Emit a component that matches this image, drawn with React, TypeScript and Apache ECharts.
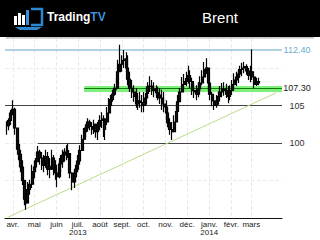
import React, { useEffect, useRef } from 'react';
import * as echarts from 'echarts';

const title = 'Brent';
const FONT = '"Liberation Sans", Arial, sans-serif';

const dates = [
  '2013-03-24', '2013-03-26', '2013-03-29', '2013-04-01', '2013-04-04', '2013-04-07', '2013-04-09', '2013-04-12', '2013-04-15', '2013-04-18',
  '2013-04-19', '2013-04-22', '2013-04-25', '2013-04-28', '2013-05-01', '2013-05-03', '2013-05-06', '2013-05-09', '2013-05-12', '2013-05-14',
  '2013-05-17', '2013-05-20', '2013-05-23', '2013-05-26', '2013-05-28', '2013-05-31', '2013-06-02', '2013-06-05', '2013-06-07', '2013-06-10',
  '2013-06-13', '2013-06-16', '2013-06-17', '2013-06-20', '2013-06-23', '2013-06-26', '2013-06-28', '2013-07-01', '2013-07-04', '2013-07-07',
  '2013-07-10', '2013-07-12', '2013-07-15', '2013-07-18', '2013-07-21', '2013-07-24', '2013-07-26', '2013-07-29', '2013-08-01', '2013-08-04',
  '2013-08-07', '2013-08-08', '2013-08-11', '2013-08-14', '2013-08-16', '2013-08-19', '2013-08-22', '2013-08-25', '2013-08-26', '2013-08-29',
  '2013-09-01', '2013-09-04', '2013-09-07', '2013-09-09', '2013-09-12', '2013-09-15', '2013-09-18', '2013-09-21', '2013-09-23', '2013-09-26',
  '2013-09-29', '2013-10-02', '2013-10-05', '2013-10-07', '2013-10-10', '2013-10-13', '2013-10-16', '2013-10-19', '2013-10-21', '2013-10-24',
  '2013-10-27', '2013-10-30', '2013-11-02', '2013-11-04', '2013-11-07', '2013-11-10', '2013-11-13', '2013-11-16', '2013-11-18', '2013-11-21',
  '2013-11-24', '2013-11-27', '2013-11-30', '2013-12-03', '2013-12-05', '2013-12-08', '2013-12-11', '2013-12-14', '2013-12-17', '2013-12-19',
  '2013-12-22', '2013-12-25', '2013-12-28', '2013-12-31', '2014-01-02', '2014-01-05', '2014-01-08', '2014-01-11', '2014-01-14', '2014-01-16',
  '2014-01-19', '2014-01-22', '2014-01-25', '2014-01-28', '2014-01-30', '2014-02-02', '2014-02-05', '2014-02-08', '2014-02-11', '2014-02-13',
  '2014-02-16', '2014-02-19', '2014-02-22', '2014-02-25', '2014-02-28', '2014-03-02', '2014-03-05', '2014-03-08', '2014-03-11',
];

const highs = [
  102.9, 103.3, 104.4, 105.7, 104.7, 101.7, 100.4, 99.1, 97.7, 95.1,
  93.7, 94.8, 95.1, 97.1, 97.7, 98.0, 99.6, 99.1, 98.8, 98.4,
  99.1, 98.8, 98.0, 99.1, 98.4, 97.7, 97.1, 98.0, 98.4, 99.1,
  99.3, 99.7, 99.9, 97.7, 96.1, 96.4, 97.1, 98.4, 99.7, 101.1,
  102.0, 102.5, 103.3, 103.1, 102.8, 103.1, 102.4, 102.8, 103.7, 104.1,
  103.7, 103.3, 104.8, 106.0, 106.4, 107.1, 107.9, 108.7, 111.1, 113.1,
  111.7, 112.4, 112.1, 111.7, 109.5, 108.4, 107.7, 107.3, 106.7, 106.8,
  106.4, 106.8, 107.1, 108.1, 108.9, 108.4, 108.1, 107.7, 107.5, 107.3,
  107.1, 106.8, 105.7, 104.7, 103.3, 102.8, 103.7, 105.1, 106.4, 107.3,
  108.8, 109.2, 109.5, 110.3, 109.7, 108.7, 107.9, 107.7, 108.1, 108.9,
  109.7, 110.8, 111.3, 109.7, 107.7, 106.8, 106.1, 106.4, 106.8, 107.6,
  108.0, 108.1, 107.9, 107.6, 107.7, 108.4, 109.3, 109.5, 109.7, 110.3,
  110.7, 110.8, 110.5, 110.0, 110.3, 112.5, 108.9, 108.7, 108.7,
];

const lows = [
  101.1, 101.7, 102.4, 103.7, 101.1, 99.1, 97.7, 96.1, 94.4, 91.7,
  91.1, 92.4, 93.1, 94.0, 95.3, 96.1, 97.5, 97.1, 96.4, 96.1,
  96.7, 95.7, 95.3, 96.4, 95.7, 95.1, 94.1, 95.3, 96.1, 96.7,
  97.5, 97.7, 98.0, 95.3, 93.7, 94.0, 94.8, 96.1, 97.1, 99.3,
  100.4, 100.8, 101.5, 101.7, 101.1, 101.2, 100.7, 100.4, 101.7, 102.0,
  100.8, 100.4, 102.4, 104.1, 104.9, 105.5, 106.3, 107.1, 108.4, 109.7,
  109.5, 110.0, 109.5, 107.7, 106.8, 106.0, 105.5, 104.7, 104.4, 104.7,
  104.1, 104.1, 105.1, 106.0, 106.8, 106.4, 106.1, 106.0, 105.7, 105.2,
  104.4, 104.1, 103.1, 102.1, 101.1, 100.4, 101.7, 102.8, 104.1, 105.7,
  106.8, 107.3, 107.6, 107.9, 107.3, 106.4, 106.0, 105.7, 106.1, 106.8,
  107.7, 108.7, 109.2, 107.1, 105.7, 104.9, 104.4, 104.7, 105.1, 105.7,
  106.1, 106.3, 106.0, 105.3, 105.7, 106.4, 107.3, 107.6, 108.0, 108.7,
  108.9, 109.3, 109.1, 108.4, 108.1, 108.4, 107.3, 107.6, 107.7,
];

const closes = [
  102.3, 103.0, 104.0, 104.5, 102.0, 99.8, 98.5, 96.8, 95.0, 92.5,
  92.0, 93.8, 94.5, 96.2, 96.8, 97.5, 98.8, 98.0, 97.0, 97.5,
  98.2, 96.5, 96.9, 98.0, 96.5, 96.0, 95.5, 97.2, 97.5, 98.4,
  98.8, 99.0, 98.6, 96.0, 94.8, 95.5, 96.5, 97.6, 99.0, 100.5,
  101.5, 102.0, 102.8, 102.2, 101.8, 102.5, 101.5, 102.2, 103.0, 103.2,
  101.8, 102.8, 104.0, 105.0, 105.8, 106.5, 107.3, 108.0, 109.5, 110.5,
  111.0, 111.2, 110.0, 108.5, 107.3, 106.8, 106.2, 105.2, 105.6, 105.4,
  105.0, 106.0, 106.6, 107.5, 107.6, 107.0, 107.2, 106.7, 106.4, 106.0,
  105.2, 104.8, 104.0, 102.7, 101.8, 101.5, 102.8, 104.2, 105.5, 106.8,
  107.8, 108.2, 108.6, 109.0, 108.2, 107.0, 106.8, 106.5, 107.2, 108.0,
  108.8, 109.8, 110.0, 108.0, 106.5, 105.6, 105.0, 105.6, 106.2, 106.8,
  107.2, 107.0, 106.5, 106.2, 107.0, 107.8, 108.4, 108.8, 109.2, 109.8,
  110.0, 110.2, 109.6, 109.0, 109.5, 108.8, 107.8, 108.2, 108.0,
];

const monthStarts = [
  '2013-04-01', '2013-05-01', '2013-06-01', '2013-07-01', '2013-08-01', '2013-09-01',
  '2013-10-01', '2013-11-01', '2013-12-01', '2014-01-01', '2014-02-01', '2014-03-01',
];
const monthLabels = ['avr.', 'mai', 'juin', 'juil.', 'août', 'sept.', 'oct.', 'nov.', 'déc.', 'janv.', 'févr.', 'mars'];
const yearLabels = ['', '', '', '2013', '', '', '', '', '', '2014', '', ''];

const axisRange = ['2013-03-21', '2014-04-13'];

const levelValues = [112.4, 107.3, 105, 100];
const levelLabels = ['112.40', '107.30', '105', '100'];
const levelStarts = ['2013-03-21', '2013-07-10', '2013-03-21', '2013-05-06'];

const trendStart: [string, number] = ['2013-03-25', 90.1];
const trendEnd: [string, number] = ['2014-04-05', 106.7];

// day number relative to the first month shown (a date -> axis value conversion)
const EPOCH = Date.UTC(2013, 3, 1);
const dayOf = (s: string) => Math.round((Date.parse(s + 'T00:00:00Z') - EPOCH) / 86400000);

export default function App() {
  const ref = useRef<HTMLDivElement>(null);

  useEffect(() => {
    const chart = echarts.init(ref.current!, null, { renderer: 'svg' });
    const monthDays = monthStarts.map(dayOf);
    const candles = dates.map((d, i) => [dayOf(d), closes[i > 0 ? i - 1 : 0], closes[i], lows[i], highs[i]]);

    const lbl = (text: string, color: string) => ({
      show: true,
      position: 'end',
      formatter: text,
      color,
      fontSize: 9,
      fontFamily: FONT,
      distance: 15,
      align: 'center',
    });
    const seg = (i: number, color: string, width: number, showLabel: boolean, labelColor: string) => [
      {
        coord: [dayOf(levelStarts[i]), levelValues[i]],
        lineStyle: { color, width, type: 'solid' },
        label: showLabel ? lbl(levelLabels[i], labelColor) : { show: false },
      },
      { coord: [dayOf(axisRange[1]), levelValues[i]] },
    ];

    chart.setOption({
      animation: false,
      backgroundColor: '#ffffff',
      grid: { left: 5, right: 38, top: 38, bottom: 22, containLabel: false },
      xAxis: {
        type: 'value',
        min: dayOf(axisRange[0]),
        max: dayOf(axisRange[1]),
        axisLine: { show: true, onZero: false, lineStyle: { color: '#111', width: 1 } },
        axisTick: { show: false, customValues: monthDays },
        axisLabel: {
          customValues: monthDays,
          formatter: (v: number) => {
            const i = monthDays.indexOf(Math.round(v));
            if (i < 0) return '';
            return yearLabels[i] ? monthLabels[i] + '\n' + yearLabels[i] : monthLabels[i];
          },
          fontSize: 8,
          lineHeight: 8,
          color: '#222',
          margin: 2,
          fontFamily: FONT,
        },
        splitLine: { show: true, lineStyle: { color: '#ebebeb', width: 1, type: 'dashed' } },
      },
      yAxis: {
        type: 'value',
        min: 90,
        max: 114,
        interval: 5,
        axisLine: { show: false },
        axisTick: { show: false },
        axisLabel: { show: false },
        splitLine: { show: true, lineStyle: { color: '#ebebeb', width: 1, type: 'dashed' } },
      },
      series: [
        {
          name: 'levels',
          type: 'line',
          data: [],
          z: 1,
          markLine: {
            silent: true,
            z: 1,
            symbol: ['none', 'none'],
            animation: false,
            data: [
              seg(0, '#96c4da', 1.5, true, '#6aaed2'),
              seg(1, '#7ff07a', 6, true, '#222'),
              seg(1, '#0c7a0c', 1.2, false, '#222'),
              seg(2, '#444', 1, true, '#333'),
              seg(3, '#444', 1, true, '#333'),
              [
                { coord: [dayOf(trendStart[0]), trendStart[1]], lineStyle: { color: '#b9df8a', width: 1, type: 'solid' }, label: { show: false } },
                { coord: [dayOf(trendEnd[0]), trendEnd[1]] },
              ],
            ],
          },
        },
        {
          name: title,
          type: 'candlestick',
          z: 3,
          barWidth: 2.5,
          data: candles,
          itemStyle: {
            color: '#151515',
            color0: '#151515',
            borderColor: '#000',
            borderColor0: '#000',
            borderWidth: 1.2,
          },
        },
      ],
      graphic: [
        { type: 'rect', z: 10, shape: { x: 0, y: 0, width: 320, height: 37 }, style: { fill: '#000' } },
        { type: 'rect', z: 10, shape: { x: 6, y: 37, width: 308, height: 1.5 }, style: { fill: '#c4c4c4' } },
        {
          type: 'text',
          z: 11,
          x: 220,
          y: 17,
          style: { text: title, fill: '#fff', fontSize: 15, fontFamily: FONT, align: 'center', verticalAlign: 'middle' },
        },
        { type: 'rect', z: 11, shape: { x: 14, y: 16, width: 3, height: 9 }, style: { fill: '#ffffff' } },
        { type: 'rect', z: 11, shape: { x: 18, y: 13, width: 3, height: 12 }, style: { fill: '#ffffff' } },
        { type: 'rect', z: 11, shape: { x: 22, y: 15, width: 3, height: 10 }, style: { fill: '#ffffff' } },
        { type: 'rect', z: 11, shape: { x: 26, y: 10, width: 3, height: 15 }, style: { fill: '#3b8fd6' } },
        {
          type: 'polyline',
          z: 11,
          shape: { points: [[31, 9], [42, 9], [42, 25], [31, 25]] },
          style: { stroke: '#2f86d0', lineWidth: 2.5, fill: null },
        },
        {
          type: 'polygon',
          z: 11,
          shape: { points: [[15, 27], [42, 27], [37, 30], [20, 30]] },
          style: { fill: '#2f86d0' },
        },
        {
          type: 'text',
          z: 11,
          x: 47,
          y: 17,
          style: {
            text: '{a|Trading}{b|TV}',
            verticalAlign: 'middle',
            fontSize: 12,
            fontWeight: 'bold',
            fontFamily: FONT,
            rich: {
              a: { fill: '#ffffff', fontSize: 12, fontWeight: 'bold', fontFamily: FONT },
              b: { fill: '#3a8fd8', fontSize: 12, fontWeight: 'bold', fontFamily: FONT },
            },
          },
        },
      ],
    });
    return () => chart.dispose();
  }, []);

  return (
    <div
      ref={ref}
      style={{ position: 'absolute', left: 0, top: 0, width: 320, height: 240, background: '#fff' }}
    />
  );
}
